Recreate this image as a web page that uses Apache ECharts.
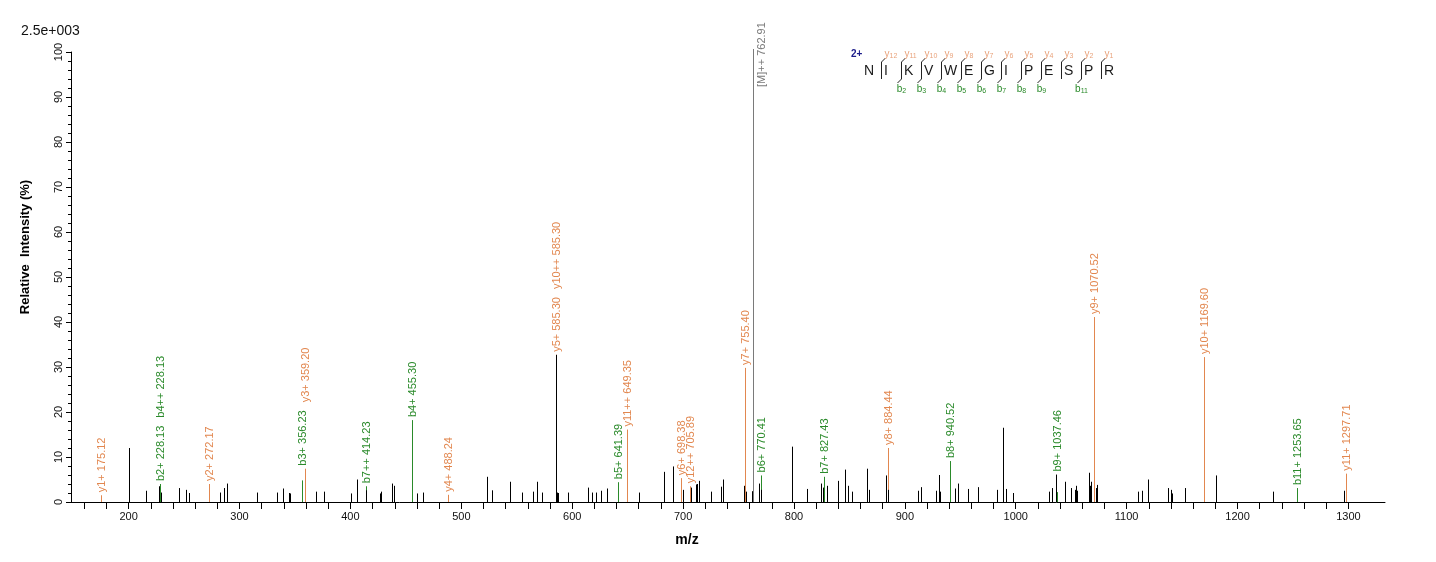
<!DOCTYPE html>
<html>
<head>
<meta charset="utf-8">
<title>MS/MS spectrum</title>
<script src="https://cdn.jsdelivr.net/npm/echarts@6/dist/echarts.min.js"></script>
<style>
html, body { margin: 0; padding: 0; background: #fff; }
#main { width: 1436px; height: 562px; }
</style>
</head>
<body>
<div id="main"></div>
<script>
// unassigned peaks: m/z and relative intensity (%)
var peakMz = [200.0, 216.0, 227.1, 229.5, 245.7, 252.0, 254.7, 282.7, 286.3, 288.4,
    316.0, 334.1, 339.5, 344.6, 345.3, 369.3, 376.5, 400.9, 406.3, 413.9,
    427.1, 427.4, 437.3, 439.1, 460.4, 465.3, 523.0, 528.1, 543.8, 554.3,
    565.0, 568.7, 572.6, 585.3, 586.3, 587.0, 596.6, 613.8, 618.3, 621.9,
    626.1, 631.8, 659.8, 682.7, 691.3, 699.6, 700.3, 707.0, 712.0, 712.6,
    713.9, 725.0, 734.0, 736.4, 754.5, 756.3, 761.9, 768.9, 770.7, 797.8,
    811.3, 824.0, 825.8, 829.6, 839.3, 840.0, 845.6, 846.0, 848.3, 851.9,
    866.3, 867.5, 882.6, 885.2, 911.8, 914.3, 927.8, 930.5, 931.3, 945.2,
    947.6, 956.7, 965.7, 982.8, 988.6, 991.0, 997.6, 1029.7, 1032.4, 1036.0,
    1044.4, 1049.5, 1053.8, 1054.6, 1055.5, 1065.7, 1066.6, 1067.5, 1072.4, 1073.3,
    1110.0, 1113.5, 1119.0, 1137.0, 1139.7, 1140.6, 1152.3, 1180.3, 1231.7, 1295.8];
var peakInt = [12.0, 2.5, 3.5, 2.1, 3.1, 2.7, 2.0, 2.1, 3.1, 4.1,
    2.1, 2.1, 3.0, 2.0, 1.9, 2.3, 2.3, 1.9, 5.0, 2.6,
    1.9, 2.3, 4.1, 3.6, 1.9, 2.1, 5.6, 2.6, 4.5, 2.1,
    2.3, 4.5, 2.1, 32.7, 2.1, 2.0, 2.1, 3.2, 2.1, 2.1,
    2.5, 3.0, 2.1, 6.7, 7.9, 2.5, 2.7, 3.2, 3.9, 4.0,
    4.7, 2.3, 3.4, 5.0, 3.6, 2.3, 2.4, 4.1, 2.7, 12.3,
    2.9, 4.1, 3.2, 3.6, 4.7, 1.9, 7.2, 2.7, 3.6, 2.3,
    7.4, 2.7, 5.9, 2.7, 2.5, 3.3, 2.5, 6.0, 2.3, 3.0,
    4.1, 2.9, 3.3, 2.7, 16.5, 2.9, 2.0, 2.3, 3.1, 6.1,
    4.5, 3.1, 2.7, 3.6, 2.5, 6.5, 3.6, 4.5, 3.1, 3.8,
    2.3, 2.5, 5.0, 3.1, 2.7, 1.9, 3.1, 5.9, 2.3, 2.5];

// assigned fragment ions
var ionNames = ['y1+', 'b2+', 'b4++', 'y2+', 'b3+', 'y3+', 'b7++', 'b4+', 'y4+', 'y5+',
    'y10++', 'b5+', 'y11++', 'y6+', 'y12++', 'y7+', 'b6+', 'b7+', 'y8+', 'b8+',
    'b9+', 'y9+', 'y10+', 'b11+', 'y11+'];
var ionMz = [175.12, 228.13, 228.13, 272.17, 356.23, 359.20, 414.23, 455.30, 488.24, 585.30,
    585.30, 641.39, 649.35, 698.38, 705.89, 755.40, 770.41, 827.43, 884.44, 940.52,
    1037.46, 1070.52, 1169.60, 1253.65, 1297.71];
var ionInt = [1.5, 4.0, 4.0, 4.0, 4.8, 7.4, 3.5, 18.2, 1.6, 32.7,
    32.7, 4.4, 16.1, 5.3, 3.5, 29.8, 5.9, 5.6, 12.0, 9.1,
    2.2, 41.1, 32.2, 3.1, 6.3];
var ionSeries = ['y', 'b', 'b', 'y', 'b', 'y', 'b', 'b', 'y', 'y',
    'y', 'b', 'y', 'y', 'y', 'y', 'b', 'b', 'y', 'b',
    'b', 'y', 'y', 'b', 'y'];

// precursor
var precursorName = '[M]++';
var precursorMz = 762.91;
var precursorInt = 100;

// peptide sequence and the fragments found
var sequence = ['N', 'I', 'K', 'V', 'W', 'E', 'G', 'I', 'P', 'E', 'S', 'P', 'R'];
var foundB = [2, 3, 4, 5, 6, 7, 8, 9, 11];
var foundY = [1, 2, 3, 4, 5, 6, 7, 8, 9, 10, 11, 12];
var chargeLabel = '2+';
var scaleLabel = '2.5e+003';

// axis ticks
var xLabelValues = [200, 300, 400, 500, 600, 700, 800, 900, 1000, 1100, 1200, 1300];
var xTickValues = [160, 180, 200, 220, 240, 260, 280, 300, 320, 340, 360, 380, 400, 420, 440,
    460, 480, 500, 520, 540, 560, 580, 600, 620, 640, 660, 680, 700, 720, 740, 760, 780,
    800, 820, 840, 860, 880, 900, 920, 940, 960, 980, 1000, 1020, 1040, 1060, 1080, 1100,
    1120, 1140, 1160, 1180, 1200, 1220, 1240, 1260, 1280, 1300];

var FONT = '"Liberation Sans", Arial, sans-serif';
var COLOR_Y = '#e2874f';
var COLOR_B = '#2a8a2a';
var COLOR_M = '#7a7a7a';

var measureCtx = document.createElement('canvas').getContext('2d');
measureCtx.font = '11px ' + FONT;
function ionText(i) {
    return ionNames[i] + ' ' + ionMz[i].toFixed(2);
}

// place the vertical ion labels: sit above nearby sticks, stack over earlier labels
function layoutIons(api) {
    var out = [];
    for (var i = 0; i < ionMz.length; i++) {
        var p = api.coord([ionMz[i], ionInt[i]]);
        var bottom = p[1] - 3;
        var k, q;
        for (k = 0; k < peakMz.length; k++) {
            q = api.coord([peakMz[k], peakInt[k]]);
            if (Math.abs(q[0] - p[0]) < 6) bottom = Math.min(bottom, q[1] - 3);
        }
        for (k = 0; k < ionMz.length; k++) {
            q = api.coord([ionMz[k], ionInt[k]]);
            if (Math.abs(q[0] - p[0]) < 6) bottom = Math.min(bottom, q[1] - 3);
        }
        var len = measureCtx.measureText(ionText(i)).width;
        var moved = true;
        while (moved) {
            moved = false;
            for (var j = 0; j < out.length; j++) {
                var o = out[j];
                if (Math.abs(o.x - p[0]) < 7 && bottom > o.bottom - o.len - 8 && bottom - len < o.bottom) {
                    bottom = o.bottom - o.len - 8;
                    moved = true;
                }
            }
        }
        out.push({x: p[0], bottom: bottom, len: len});
    }
    return out;
}

function renderPeak(params, api) {
    var base = api.coord([api.value(0), 0]);
    var top = api.coord([api.value(0), api.value(1)]);
    var x = Math.round(base[0]) + 0.5;
    return {
        type: 'line',
        shape: {x1: x, y1: base[1], x2: x, y2: top[1]},
        style: {stroke: '#000', lineWidth: 1}
    };
}

function renderIon(params, api) {
    var i = params.dataIndex;
    var layout = layoutIons(api)[i];
    var base = api.coord([api.value(0), 0]);
    var top = api.coord([api.value(0), api.value(1)]);
    var x = Math.round(base[0]) + 0.5;
    var isY = ionSeries[i] === 'y';
    return {
        type: 'group',
        children: [{
            type: 'line',
            shape: {x1: x, y1: base[1], x2: x, y2: top[1]},
            style: {stroke: isY ? COLOR_Y : COLOR_B, lineWidth: 1}
        }, {
            type: 'text',
            x: x,
            y: layout.bottom,
            rotation: Math.PI / 2,
            style: {
                text: ionText(i),
                fill: isY ? COLOR_Y : COLOR_B,
                font: '11px ' + FONT,
                align: 'left',
                verticalAlign: 'middle'
            }
        }]
    };
}

function renderPrecursor(params, api) {
    var base = api.coord([api.value(0), 0]);
    var top = api.coord([api.value(0), api.value(1)]);
    var x = Math.round(base[0]) + 0.5;
    return {
        type: 'group',
        children: [{
            type: 'line',
            shape: {x1: x, y1: base[1], x2: x, y2: top[1] - 3},
            style: {stroke: COLOR_M, lineWidth: 1}
        }, {
            type: 'text',
            x: x + 8,
            y: top[1] + 35,
            rotation: Math.PI / 2,
            style: {
                text: precursorName + ' ' + precursorMz.toFixed(2),
                fill: COLOR_M,
                font: '11px ' + FONT,
                align: 'left',
                verticalAlign: 'middle'
            }
        }]
    };
}

// fragment map at the top right
function sequenceGraphic() {
    var els = [];
    var left0 = 864, step = 20, midY = 71;
    els.push({type: 'text', x: 851, y: 54, style: {text: chargeLabel, font: 'bold 10px ' + FONT, fill: '#1c1c8a', align: 'left', verticalAlign: 'middle'}});
    for (var i = 0; i < sequence.length; i++) {
        els.push({type: 'text', x: left0 + step * i, y: midY,
            style: {text: sequence[i], font: '14px ' + FONT, fill: '#1a1a1a', align: 'left', verticalAlign: 'middle'}});
    }
    for (var n = 1; n < sequence.length; n++) {
        var bx = 861.5 + step * n;
        var yNum = sequence.length - n;
        var hasB = foundB.indexOf(n) >= 0;
        var hasY = foundY.indexOf(yNum) >= 0;
        els.push({type: 'line', shape: {x1: bx, y1: 62, x2: bx, y2: 79}, style: {stroke: '#222', lineWidth: 1}});
        if (hasY) {
            els.push({type: 'line', shape: {x1: bx, y1: 62, x2: bx + 4, y2: 58}, style: {stroke: '#222', lineWidth: 1}});
            els.push({type: 'text', x: bx + 3, y: 54,
                style: {text: '{a|y}{s|' + yNum + '}', align: 'left', verticalAlign: 'middle',
                    rich: {a: {font: '10px ' + FONT, fill: '#e9a37c'}, s: {font: '7px ' + FONT, fill: '#e9a37c', padding: [4, 0, 0, 0]}}}});
        }
        if (hasB) {
            els.push({type: 'line', shape: {x1: bx, y1: 79, x2: bx - 4, y2: 83}, style: {stroke: '#222', lineWidth: 1}});
            els.push({type: 'text', x: bx, y: 89,
                style: {text: '{a|b}{s|' + n + '}', align: 'center', verticalAlign: 'middle',
                    rich: {a: {font: '10px ' + FONT, fill: '#2a8a2a'}, s: {font: '7px ' + FONT, fill: '#2a8a2a', padding: [4, 0, 0, 0]}}}});
        }
    }
    return els;
}

var chart = echarts.init(document.getElementById('main'), null, {renderer: 'canvas'});
var option = {
    animation: false,
    backgroundColor: '#fff',
    grid: {left: 71, right: 51, top: 52, bottom: 60},
    xAxis: {
        type: 'value',
        min: 148,
        max: 1333,
        axisLine: {lineStyle: {color: '#000', width: 1}},
        axisTick: {show: true, customValues: xTickValues, length: 7, lineStyle: {color: '#000'}},
        axisLabel: {
            customValues: xLabelValues, margin: 9, color: '#111', fontSize: 11, fontFamily: FONT,
            formatter: function (v) { return String(v); }
        },
        splitLine: {show: false}
    },
    yAxis: {
        type: 'value',
        min: 0,
        max: 100,
        interval: 10,
        axisLine: {show: true, lineStyle: {color: '#000', width: 1}},
        axisTick: {show: true, length: 5, lineStyle: {color: '#000'}},
        minorTick: {show: true, splitNumber: 5, length: 3, lineStyle: {color: '#000'}},
        axisLabel: {rotate: 90, margin: 7, color: '#111', fontSize: 11, fontFamily: FONT},
        splitLine: {show: false}
    },
    graphic: [
        {type: 'text', x: 21, y: 31, style: {text: scaleLabel, font: '14px ' + FONT, fill: '#111', align: 'left', verticalAlign: 'middle'}},
        {type: 'text', x: 25, y: 247, rotation: Math.PI / 2,
            style: {text: 'Relative  Intensity (%)', font: 'bold 13px ' + FONT, fill: '#000', align: 'center', verticalAlign: 'middle'}},
        {type: 'text', x: 687, y: 540, style: {text: 'm/z', font: 'bold 14px ' + FONT, fill: '#000', align: 'center', verticalAlign: 'middle'}}
    ].concat(sequenceGraphic()),
    series: [{
        type: 'custom',
        name: 'ions',
        renderItem: renderIon,
        data: ionMz.map(function (m, i) { return [m, ionInt[i]]; }),
        z: 2
    }, {
        type: 'custom',
        name: 'precursor',
        renderItem: renderPrecursor,
        data: [[precursorMz, precursorInt]],
        z: 2
    }, {
        type: 'custom',
        name: 'peaks',
        renderItem: renderPeak,
        data: peakMz.map(function (m, i) { return [m, peakInt[i]]; }),
        z: 3
    }]
};
chart.setOption(option);
</script>
</body>
</html>
